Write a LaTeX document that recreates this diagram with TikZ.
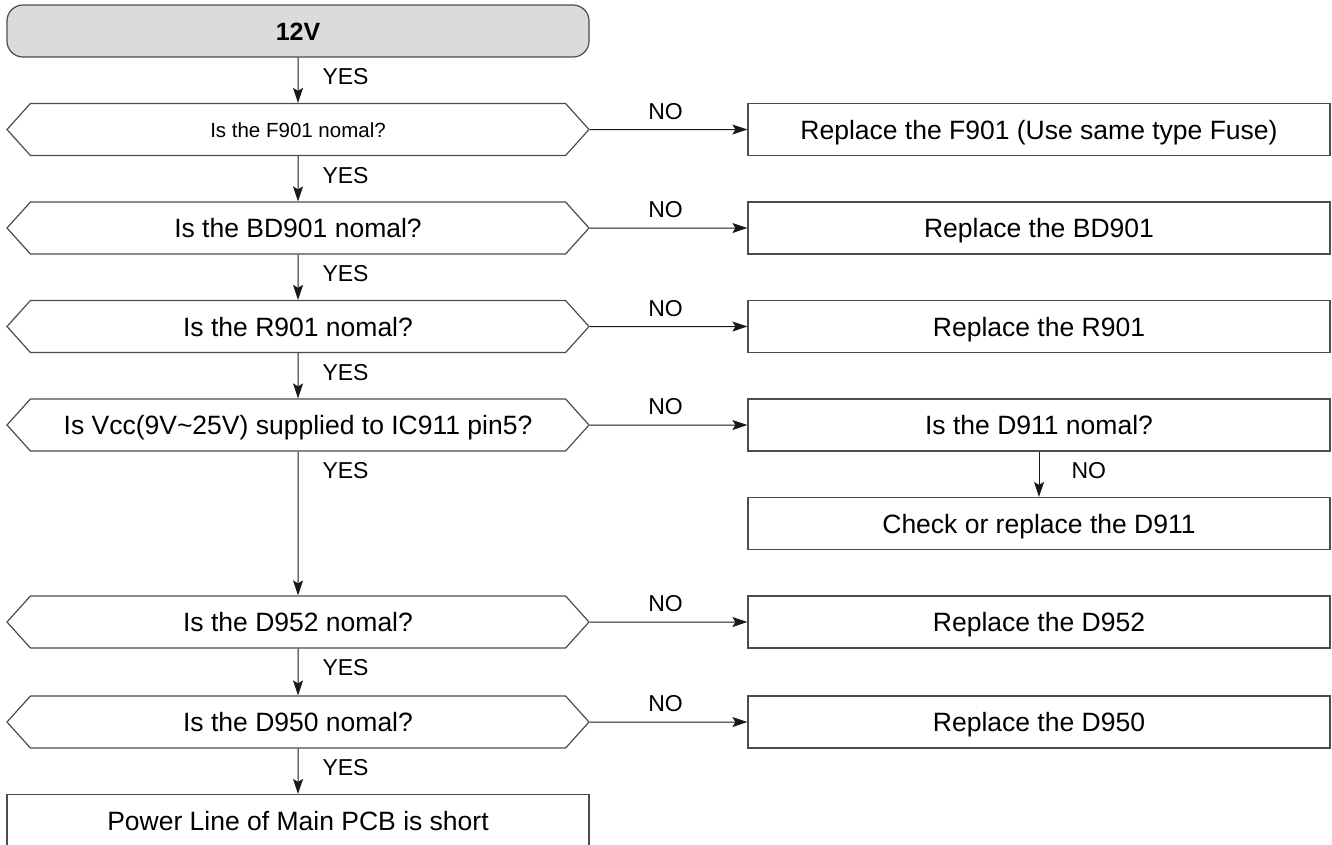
\documentclass[tikz,border=0pt]{standalone}
\usepackage{fontspec}
\setmainfont{Liberation Sans}
\usetikzlibrary{arrows.meta,positioning,shapes.symbols}
\tikzset{
     start node/.style={draw=black!70, fill=black!14, rounded corners=16pt, line width=1.2pt,
        minimum width=582pt, minimum height=52pt, inner sep=0pt, text height=18pt, text depth=0pt,
        font=\fontsize{25}{28}\selectfont\bfseries},
      chk node/.style={signal, signal to=west and east, signal pointer angle=96, draw=black!70,
        line width=1.2pt, minimum width=582pt, minimum height=52pt, inner sep=0pt,
        text height=19pt, text depth=0pt, font=\fontsize{26.5}{30}\selectfont},
      fix node/.style={draw=black!70, line width=1.2pt, minimum width=582pt, minimum height=52pt,
        inner sep=0pt, text height=19pt, text depth=0pt, font=\fontsize{26.5}{30}\selectfont},
      flowedge/.style={black!90, line width=1pt, -{Stealth[length=15pt,width=10pt,inset=3pt]}},
      ans label/.style={font=\fontsize{23}{26}\selectfont, inner sep=0pt, black},
    }

\begin{document}
\begin{tikzpicture}[x=1pt,y=-1pt,node distance=98.5pt,on grid]
        \useasboundingbox (0,0) rectangle (1332,844);
        \node [start node] (v12) at (298,31) {12V};
        \node [chk node, text height=15pt, font=\fontsize{20.5}{24}\selectfont] (f901) [below of=v12] {Is the F901 nomal?};
        \node [chk node] (bd901) [below of=f901] {Is the BD901 nomal?};
        \node [chk node] (r901) [below of=bd901] {Is the R901 nomal?};
        \node [chk node] (vcc) [below of=r901] {Is Vcc(9V\textasciitilde25V) supplied to IC911 pin5?};
        \node [chk node] (d952) [node distance=197pt, below of=vcc] {Is the D952 nomal?};
        \node [chk node] (d950) [node distance=100pt, below of=d952] {Is the D950 nomal?};
        \node [fix node] (short) [below of=d950] {Power Line of Main PCB is short};

        \node [fix node] (f901fix) [node distance=741pt, right of=f901] {Replace the F901 (Use same type Fuse)};
        \node [fix node] (bd901fix) [node distance=741pt, right of=bd901] {Replace the BD901};
        \node [fix node] (r901fix) [node distance=741pt, right of=r901] {Replace the R901};
        \node [fix node] (d911) [node distance=741pt, right of=vcc] {Is the D911 nomal?};
        \node [fix node] (d911fix) [below of=d911] {Check or replace the D911};
        \node [fix node] (d952fix) [node distance=741pt, right of=d952] {Replace the D952};
        \node [fix node] (d950fix) [node distance=741pt, right of=d950] {Replace the D950};

        \path
        (v12) edge [flowedge] node [ans label, at start, anchor=west, xshift=24pt, yshift=-19pt] {YES} (f901)
        (f901) edge [flowedge] node [ans label, at start, anchor=west, xshift=24pt, yshift=-19pt] {YES} (bd901)
        (bd901) edge [flowedge] node [ans label, at start, anchor=west, xshift=24pt, yshift=-19pt] {YES} (r901)
        (r901) edge [flowedge] node [ans label, at start, anchor=west, xshift=24pt, yshift=-19pt] {YES} (vcc)
        (vcc) edge [flowedge] node [ans label, at start, anchor=west, xshift=24pt, yshift=-19pt] {YES} (d952)
        (d952) edge [flowedge] node [ans label, at start, anchor=west, xshift=24pt, yshift=-19pt] {YES} (d950)
        (d950) edge [flowedge] node [ans label, at start, anchor=west, xshift=24pt, yshift=-19pt] {YES} (short)

        (f901) edge [flowedge] node [ans label, midway, xshift=-3pt, yshift=18pt] {NO} (f901fix)
        (bd901) edge [flowedge] node [ans label, midway, xshift=-3pt, yshift=18pt] {NO} (bd901fix)
        (r901) edge [flowedge] node [ans label, midway, xshift=-3pt, yshift=18pt] {NO} (r901fix)
        (vcc) edge [flowedge] node [ans label, midway, xshift=-3pt, yshift=18pt] {NO} (d911)
        (d952) edge [flowedge] node [ans label, midway, xshift=-3pt, yshift=18pt] {NO} (d952fix)
        (d950) edge [flowedge] node [ans label, midway, xshift=-3pt, yshift=18pt] {NO} (d950fix)

        (d911) edge [flowedge] node [ans label, at start, anchor=west, xshift=32pt, yshift=-19pt] {NO} (d911fix);
    \end{tikzpicture}
\end{document}
